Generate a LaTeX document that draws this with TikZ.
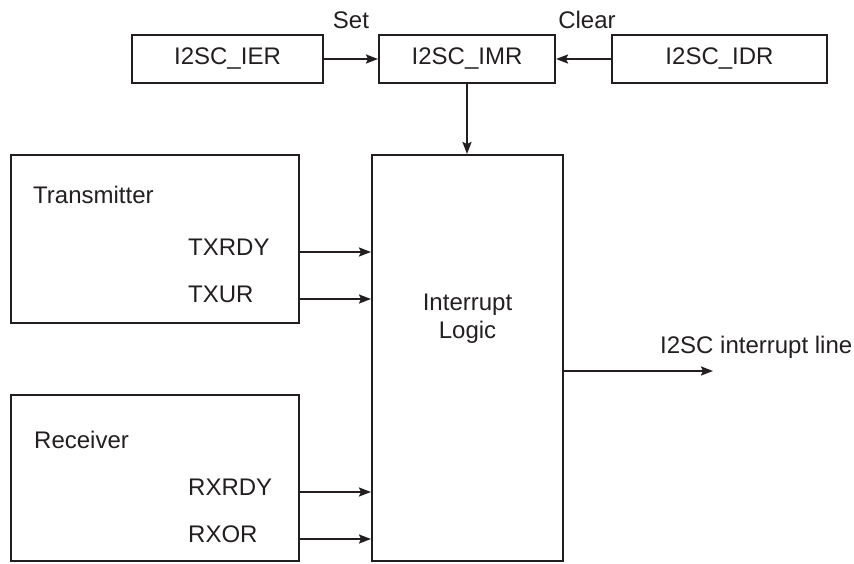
\documentclass[tikz,border=0pt]{standalone}
\usepackage{fontspec}
\setmainfont{Liberation Sans}
\usepackage{tikz}
\usetikzlibrary{arrows.meta,calc,positioning}
\definecolor{inkdark}{HTML}{231F20}

\begin{document}
\begin{tikzpicture}[
  x=1pt, y=-1pt,
  font=\fontsize{24}{28}\selectfont,
  every node/.style={text=inkdark},
  reg/.style={draw=inkdark, line width=2pt, minimum height=48pt, inner sep=0pt},
  blk/.style={draw=inkdark, line width=2pt, inner sep=0pt},
  sig/.style={anchor=base west, inner sep=0pt},
  arr/.style={-{Stealth[length=12pt, width=9pt, inset=2pt]}, line width=2pt, draw=inkdark}
]
  \useasboundingbox (0,0) rectangle (854,563);

  % mask registers
  \node[reg, minimum width=191pt] (ier) at (227.5,59) {I2SC\_IER};
  \node[reg, minimum width=176pt] (imr) at (467,59) {I2SC\_IMR};
  \node[reg, minimum width=215pt] (idr) at (719.5,59) {I2SC\_IDR};
  \node (set) at (351,20) {Set};
  \node (clear) at (587,20) {Clear};

  % sources and logic
  \node[blk, minimum width=288pt, minimum height=168pt] (tx) at (155,239) {};
  \node[blk, minimum width=288pt, minimum height=166pt] (rx) at (155,478) {};
  \node[blk, minimum width=191pt, minimum height=406pt] (logic) at (467.5,358) {};
  \node[align=center, inner sep=0pt] (logictxt) at (467.5,319) {Interrupt\\Logic};

  \node[sig] (txname) at (33,203) {Transmitter};
  \node[sig] (txrdy) at (188,255) {TXRDY};
  \node[sig] (txur) at (188,302) {TXUR};
  \node[sig] (rxname) at (34,448) {Receiver};
  \node[sig] (rxrdy) at (188,495) {RXRDY};
  \node[sig] (rxor) at (188,542) {RXOR};

  \coordinate (irqend) at (713,371);
  \node[anchor=west, inner sep=0pt] (irqtxt) at (660,347) {I2SC interrupt line};

  \draw[arr] (ier) -- (imr);
  \draw[arr] (idr) -- (imr);
  \draw[arr] (imr) -- (logic.north -| imr);
  \foreach \s/\b in {txrdy/tx, txur/tx, rxrdy/rx, rxor/rx}
    \draw[arr] ($(\s.base -| \b.east)+(0,-3)$) -- ($(\s.base -| logic.west)+(0,-3)$);
  \draw[arr] (logic.east |- irqend) -- (irqend);
\end{tikzpicture}
\end{document}
